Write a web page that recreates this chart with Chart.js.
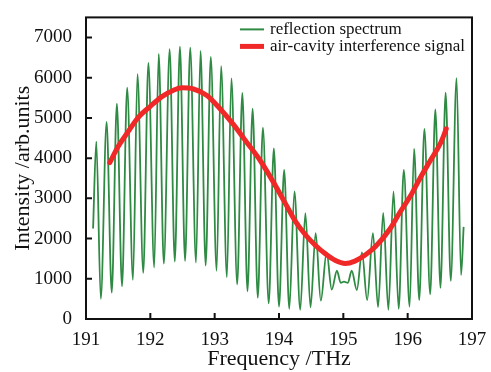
<!DOCTYPE html>
<html>
<head>
<meta charset="utf-8">
<script src="https://cdn.jsdelivr.net/npm/chart.js@4"></script>
<style>
  html, body { margin: 0; padding: 0; background: #fff; }
  #wrap { width: 491px; height: 372px; }
</style>
</head>
<body>
<div id="wrap"><canvas id="chart" width="491" height="372"></canvas></div>
<script>
// reflection spectrum: peaks and valleys
const spectrumFreq = [
  191.11, 191.16, 191.23, 191.32, 191.40, 191.48, 191.56, 191.64, 191.73, 191.80,
  191.89, 191.97, 192.06, 192.13, 192.21, 192.30, 192.38, 192.46, 192.54, 192.62,
  192.71, 192.78, 192.86, 192.94, 193.03, 193.10, 193.19, 193.26, 193.35, 193.43,
  193.51, 193.59, 193.67, 193.75, 193.84, 193.92, 194.00, 194.08, 194.16, 194.24,
  194.33, 194.41, 194.49, 194.57, 194.65, 194.74, 194.82, 194.90, 194.96, 195.01,
  195.07, 195.13, 195.21, 195.29, 195.37, 195.46, 195.54, 195.62, 195.70, 195.78,
  195.86, 195.94, 196.03, 196.10, 196.18, 196.26, 196.35, 196.43, 196.51, 196.59,
  196.67, 196.76, 196.83, 196.87
];
const spectrumIntensity = [
  2250, 4410, 500, 4900, 655, 5355, 815, 5750, 975, 6090,
  1150, 6370, 1280, 6590, 1375, 6710, 1430, 6770, 1445, 6750,
  1405, 6670, 1330, 6515, 1200, 6285, 1040, 5985, 860, 5620,
  690, 5230, 530, 4760, 390, 4245, 310, 3710, 255, 3170,
  230, 2635, 290, 2135, 455, 1655, 730, 1200, 900, 930,
  900, 1200, 720, 1655, 470, 2135, 295, 2640, 230, 3170,
  255, 3710, 310, 4230, 470, 4730, 615, 5210, 775, 5630,
  950, 5990, 1095, 2290
];

// air-cavity interference signal
const signalFreq = [
  191.37, 191.50, 191.66, 191.81, 192.00, 192.18, 192.36, 192.49, 192.67, 192.88,
  193.08, 193.29, 193.50, 193.71, 193.91, 194.09, 194.25, 194.41, 194.56, 194.72,
  194.87, 195.03, 195.18, 195.34, 195.50, 195.73, 195.88, 196.04, 196.19, 196.35,
  196.51, 196.60
];
const signalIntensity = [
  3890, 4290, 4670, 5010, 5290, 5530, 5690, 5750, 5720, 5560,
  5235, 4840, 4390, 3935, 3410, 2900, 2440, 2095, 1840, 1620,
  1460, 1380, 1440, 1590, 1800, 2250, 2655, 3050, 3495, 3935,
  4370, 4730
];

const xTicks = [191, 192, 193, 194, 195, 196, 197];
const yTicks = [0, 1000, 2000, 3000, 4000, 5000, 6000, 7000];

const seriesLabels = ['reflection spectrum', 'air-cavity interference signal'];
const GREEN = '#2f8a43';
const RED = '#f02828';
const FONT = '"Liberation Serif", "DejaVu Serif", serif';

const toPoints = (xs, ys) => xs.map((x, i) => ({ x, y: ys[i] }));

// frame, inward ticks and the legend inside the plot
const framePlugin = {
  id: 'frame',
  afterDatasetsDraw(chart) {
    const { ctx, chartArea: a, scales } = chart;
    ctx.save();
    ctx.strokeStyle = '#111';
    ctx.lineWidth = 2;
    ctx.strokeRect(a.left, a.top, a.right - a.left, a.bottom - a.top);
    ctx.beginPath();
    xTicks.forEach((v) => {
      const px = scales.x.getPixelForValue(v);
      ctx.moveTo(px, a.bottom);
      ctx.lineTo(px, a.bottom - 6);
    });
    yTicks.forEach((v) => {
      const py = scales.y.getPixelForValue(v);
      ctx.moveTo(a.left, py);
      ctx.lineTo(a.left + 6, py);
    });
    ctx.stroke();

    // legend
    const lx = a.right - 232;
    const rows = [
      { color: GREEN, width: 2, y: a.top + 12 },
      { color: RED, width: 5, y: a.top + 29 },
    ];
    ctx.font = '17px ' + FONT;
    ctx.textBaseline = 'middle';
    ctx.fillStyle = '#111';
    rows.forEach((r, i) => {
      ctx.beginPath();
      ctx.strokeStyle = r.color;
      ctx.lineWidth = r.width;
      ctx.moveTo(lx, r.y);
      ctx.lineTo(lx + 24, r.y);
      ctx.stroke();
      ctx.fillText(seriesLabels[i], lx + 30, r.y);
    });
    ctx.restore();
  },
};

new Chart(document.getElementById('chart').getContext('2d'), {
  type: 'line',
  data: {
    datasets: [
      {
        label: seriesLabels[0],
        data: toPoints(spectrumFreq, spectrumIntensity),
        borderColor: GREEN,
        borderWidth: 1.8,
        pointRadius: 0,
        cubicInterpolationMode: 'monotone',
        order: 2,
      },
      {
        label: seriesLabels[1],
        data: toPoints(signalFreq, signalIntensity),
        borderColor: RED,
        borderWidth: 5,
        borderCapStyle: 'round',
        pointRadius: 0,
        cubicInterpolationMode: 'monotone',
        order: 1,
      },
    ],
  },
  options: {
    responsive: false,
    animation: false,
    layout: { padding: { top: 5, right: 19, left: 0, bottom: 0 } },
    plugins: {
      legend: { display: false },
      tooltip: { enabled: false },
    },
    scales: {
      x: {
        type: 'linear',
        min: 191,
        max: 197,
        grid: { display: false },
        border: { display: false },
        afterBuildTicks: (s) => { s.ticks = xTicks.map((v) => ({ value: v })); },
        afterFit: (s) => { s.height = 53; },
        ticks: {
          color: '#111',
          padding: 2,
          maxRotation: 0,
          font: { family: FONT, size: 19 },
        },
        title: {
          display: true,
          text: 'Frequency /THz',
          color: '#111',
          padding: { top: 0, bottom: 0 },
          font: { family: FONT, size: 22 },
        },
      },
      y: {
        min: 0,
        max: 7500,
        grid: { display: false },
        border: { display: false },
        afterBuildTicks: (s) => { s.ticks = yTicks.map((v) => ({ value: v })); },
        afterFit: (s) => { s.width = 86; },
        ticks: {
          color: '#111',
          padding: 6,
          font: { family: FONT, size: 19 },
          callback: (v) => String(v),
        },
        title: {
          display: true,
          text: 'Intensity /arb.units',
          color: '#111',
          padding: { top: 10, bottom: 0 },
          font: { family: FONT, size: 22 },
        },
      },
    },
  },
  plugins: [framePlugin],
});
</script>
</body>
</html>
